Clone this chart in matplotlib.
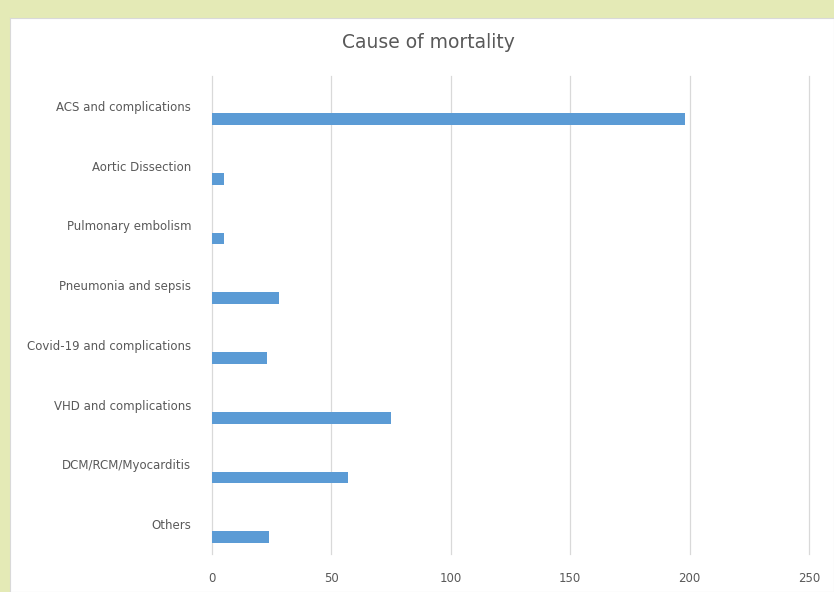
import matplotlib
matplotlib.use("Agg")
import matplotlib.pyplot as plt
import numpy as np

categories = ["ACS and complications", "Aortic Dissection", "Pulmonary embolism",
              "Pneumonia and sepsis", "Covid-19 and complications", "VHD and complications",
              "DCM/RCM/Myocarditis", "Others"]
values = [198, 5, 5, 28, 23, 75, 57, 24]
xticks = [0, 50, 100, 150, 200, 250]

W, H = 834, 592
fig = plt.figure(figsize=(W / 100, H / 100), dpi=100)
fig.patch.set_facecolor("#e4eab6")

# white chart area as a background axes
bg = fig.add_axes([10 / W, 0, 1 - 10 / W, 1 - 18 / H], zorder=-5)
bg.set_facecolor("white")
bg.set_xticks([])
bg.set_yticks([])
for s in bg.spines.values():
    s.set_color("#d9d9d9")
    s.set_linewidth(0.8)

ax = fig.add_axes([212 / W, 1 - 554 / H, (809 - 212) / W, (554 - 76) / H], zorder=1)
ax.set_facecolor("none")
pos = np.arange(len(categories))
ax.barh(pos + 0.22, values, height=0.2, color="#5b9bd5", zorder=3)
ax.set_yticks(pos)
ax.set_yticklabels(categories)
ax.set_ylim(len(categories) - 0.5, -0.5)
ax.set_xlim(0, 250)
ax.set_xticks(xticks)
ax.tick_params(axis="both", length=0, colors="#595959", labelsize=8.5)
ax.tick_params(axis="y", pad=15)
ax.tick_params(axis="x", pad=13)
ax.grid(axis="x", color="#d9d9d9", linewidth=0.9, zorder=0)
for gl in ax.get_xgridlines():
    gl.set_clip_on(False)
ax.set_axisbelow(True)
for s in ax.spines.values():
    s.set_visible(False)

fig.text(428 / W, 1 - 43 / H, "Cause of mortality", ha="center", va="center",
         fontsize=13.5, color="#595959")

fig.savefig("out.png", dpi=100, facecolor=fig.get_facecolor())
